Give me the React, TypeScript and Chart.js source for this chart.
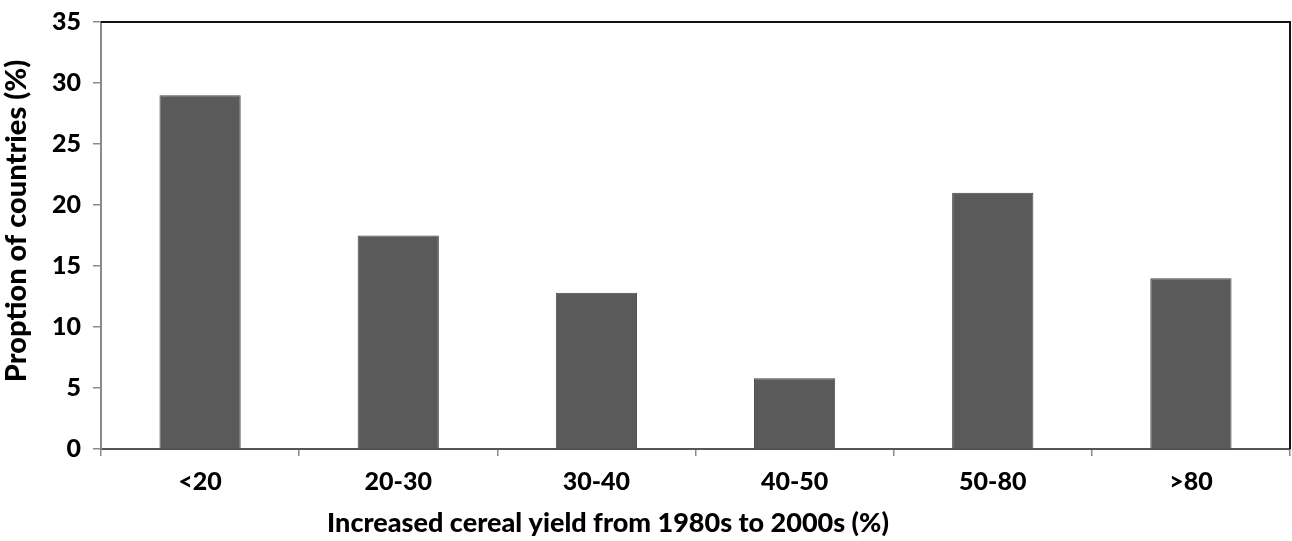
import React, { useEffect, useRef } from "react";
import { Chart, registerables } from "chart.js";

Chart.register(...registerables);

const categories = ["<20", "20-30", "30-40", "40-50", "50-80", ">80"];
const proportions = [29, 17.5, 12.8, 5.8, 21, 14];
const yTicks = [0, 5, 10, 15, 20, 25, 30, 35];
const xTitle = "Increased cereal yield from 1980s to 2000s (%)";
const yTitle = "Proption of countries (%)";

const FONT = "Lato, 'Open Sans', sans-serif";

const framePlugin = {
  id: "frame",
  afterDraw(chart: any) {
    const { ctx, chartArea } = chart;
    const { left, right, top, bottom } = chartArea;
    ctx.save();
    ctx.strokeStyle = "#111111";
    ctx.lineWidth = 2;
    ctx.beginPath();
    ctx.moveTo(left, top);
    ctx.lineTo(right, top);
    ctx.lineTo(right, bottom);
    ctx.stroke();
    ctx.fillStyle = "#000000";
    ctx.font = `900 27px ${FONT}`;
    ctx.textAlign = "center";
    ctx.textBaseline = "middle";
    ctx.fillText(xTitle, 608, 523);
    ctx.translate(17, 221);
    ctx.rotate(-Math.PI / 2);
    ctx.font = `900 29px ${FONT}`;
    ctx.fillText(yTitle, 0, 0);
    ctx.restore();
  },
};

export default function App() {
  const ref = useRef<HTMLCanvasElement | null>(null);
  useEffect(() => {
    document.body.style.margin = "0";
    const canvas = ref.current!;
    const chart = new Chart(canvas, {
      type: "bar",
      data: {
        labels: categories,
        datasets: [
          {
            data: proportions,
            backgroundColor: "#5a5a5a",
            borderColor: "#4a4a4a",
            borderWidth: 1,
            categoryPercentage: 1,
            barPercentage: 0.41,
          },
        ],
      },
      options: {
        responsive: false,
        animation: false,
        layout: { padding: { top: 22, right: 2, left: 0, bottom: 0 } },
        plugins: { legend: { display: false }, tooltip: { enabled: false } },
        scales: {
          x: {
            offset: true,
            grid: {
              offset: true,
              drawOnChartArea: false,
              drawTicks: true,
              tickLength: 7,
              color: "#8a8a8a",
              lineWidth: 1.5,
            },
            border: { display: true, color: "#555555", width: 2 },
            ticks: {
              color: "#000000",
              font: { family: FONT, weight: "900", size: 25 },
              padding: 11,
            },
            afterFit(scale: any) {
              scale.height = 92;
              scale.paddingLeft = 0;
              scale.paddingRight = 0;
            },
          },
          y: {
            min: 0,
            max: 35,
            afterBuildTicks(scale: any) {
              scale.ticks = yTicks.map((v) => ({ value: v }));
            },
            grid: {
              drawOnChartArea: false,
              drawTicks: true,
              tickLength: 8,
              color: "#8a8a8a",
              lineWidth: 1.5,
            },
            border: { display: true, color: "#8a8a8a", width: 2 },
            ticks: {
              color: "#000000",
              font: { family: FONT, weight: "900", size: 25 },
              padding: 12,
            },
            afterFit(scale: any) {
              scale.width = 101;
              scale.paddingTop = 0;
              scale.paddingBottom = 0;
            },
          },
        },
      },
      plugins: [framePlugin],
    });
    return () => chart.destroy();
  }, []);
  return <canvas ref={ref} width={1292} height={541} style={{ display: "block" }} />;
}
